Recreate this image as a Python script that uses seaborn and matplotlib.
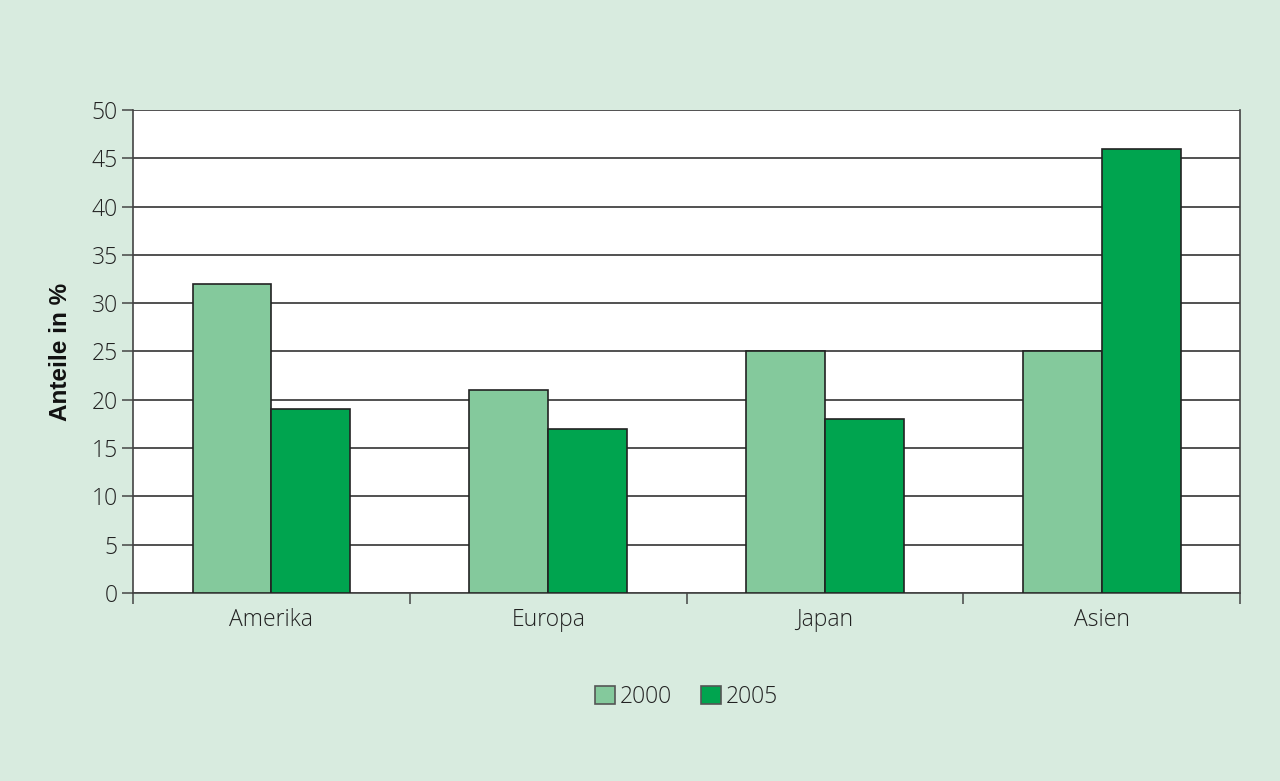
import pandas as pd
import numpy as np
import seaborn as sns
import matplotlib.pyplot as plt
from matplotlib.ticker import FixedLocator

# values
regions = ['Amerika', 'Europa', 'Japan', 'Asien']
years = ['2000', '2005']
share_2000 = [32, 21, 25, 25]
share_2005 = [19, 17, 18, 46]

df = pd.DataFrame({
    'Region': regions * 2,
    'Jahr': [years[0]] * 4 + [years[1]] * 4,
    'Anteil': share_2000 + share_2005,
})

bg = '#d8ebdf'
colors = {'2000': '#84c99c', '2005': '#00a44f'}

sns.set_style('white')
plt.rcParams['font.family'] = ['Open Sans', 'DejaVu Sans']
plt.rcParams['font.weight'] = 'light'

fig = plt.figure(figsize=(12.8, 7.81), dpi=100, facecolor=bg)
ax = fig.add_axes([0.1039, 0.2407, 0.865, 0.6185])
ax.set_facecolor('white')

sns.barplot(data=df, x='Region', y='Anteil', hue='Jahr', palette=colors,
            width=0.57, edgecolor='#222222', linewidth=1.2, saturation=1,
            ax=ax, zorder=3)

ax.set_ylim(0, 50)
ax.set_xlim(-0.5, 3.5)
ax.set_yticks(np.arange(0, 51, 5))
ax.yaxis.grid(True, color='#222222', linewidth=1.1, zorder=0)
ax.set_axisbelow(True)

ax.spines['top'].set_visible(False)
for s in ['left', 'bottom', 'right']:
    ax.spines[s].set_color('#444444')
    ax.spines[s].set_linewidth(1.2)

ax.tick_params(axis='y', which='major', direction='out', length=8, width=1.1,
               color='#444444', labelsize=16.5, labelcolor='#222222', pad=3, left=True)
ax.tick_params(axis='x', which='major', length=0, labelsize=16.5,
               labelcolor='#222222', pad=11)
ax.xaxis.set_minor_locator(FixedLocator([-0.5, 0.5, 1.5, 2.5, 3.5]))
ax.tick_params(axis='x', which='minor', direction='out', length=8, width=1.1,
               color='#444444', bottom=True)

ax.set_xlabel('')
ax.set_ylabel('Anteile in %', fontsize=17.5, fontweight='bold', color='#111111',
              labelpad=14, family=['Liberation Sans'])

leg = ax.legend(loc='center', bbox_to_anchor=(0.5, -0.215), ncol=2, frameon=False,
                fontsize=16.5, handlelength=0.85, handleheight=0.85, handletextpad=0.2,
                columnspacing=1.3)
for t in leg.get_texts():
    t.set_color('#222222')
for h in leg.legend_handles:
    h.set_edgecolor('#555555')

fig.savefig('out.png', dpi=100, facecolor=bg)
